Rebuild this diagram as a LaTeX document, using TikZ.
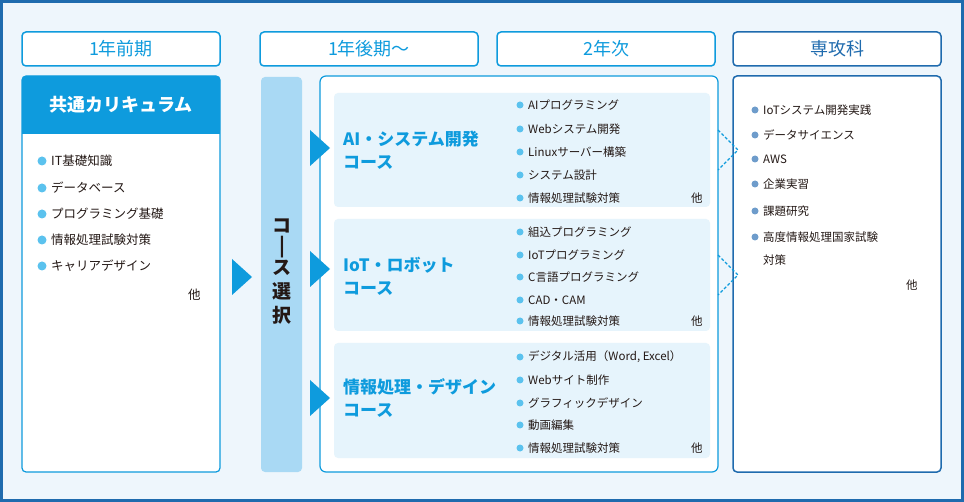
\documentclass[tikz,border=0pt]{standalone}
\usepackage{fontspec}
\setmainfont{Noto Sans CJK JP}
\definecolor{cblue}{HTML}{0E9BDD}
\definecolor{dblue}{HTML}{1F6BAE}
\definecolor{lblue}{HTML}{A9D9F4}
\definecolor{pblue}{HTML}{E6F4FC}
\definecolor{bgc}{HTML}{EEF6FC}
\definecolor{bul}{HTML}{5BC2EE}
\definecolor{bul2}{HTML}{6E9CCB}
\definecolor{txt}{HTML}{231815}
\begin{document}
\begin{tikzpicture}[x=1pt,y=-1pt,
 hdr/.style={draw=cblue,line width=1.5pt,rounded corners=4pt,fill=white,text=cblue,font=\fontsize{18}{18}\selectfont},
 item/.style={anchor=west,text=txt,font=\fontsize{12.5}{12.5}\selectfont,inner sep=0pt},
 sitem/.style={anchor=west,text=txt,font=\fontsize{11.5}{11.5}\selectfont,inner sep=0pt},
 ctitle/.style={anchor=west,text=cblue,align=left,font=\bfseries\fontsize{17}{23}\selectfont,inner sep=0pt},
 subbox/.style={fill=pblue,rounded corners=4pt},
 tri/.style={fill=cblue},
 dtri/.style={draw=cblue,dashed,line width=1.2pt,dash pattern=on 3pt off 2pt}]
\fill[bgc] (0,0) rectangle (964,502);
\draw[dblue,line width=3pt] (1.5,1.5) rectangle (962.5,500.5);
\node[hdr,minimum width=198pt,minimum height=34pt] (h1) at (121,49) {1年前期};
\node[hdr,minimum width=218pt,minimum height=34pt] (h2) at (369,49) {1年後期〜};
\node[hdr,minimum width=218pt,minimum height=34pt] (h3) at (606,49) {2年次};
\node[draw=dblue,line width=1.5pt,rounded corners=4pt,fill=white,text=dblue,font=\fontsize{18}{18}\selectfont,minimum width=208pt,minimum height=34pt] (h4) at (837,49) {専攻科};
% common
\draw[cblue,line width=1.2pt,fill=white,rounded corners=4pt] (22,76) rectangle (220,472);
\fill[cblue,rounded corners=4pt] (22,76) rectangle (220,134);
\fill[cblue] (22,110) rectangle (220,134);
\node[text=white,font=\bfseries\fontsize{18}{18}\selectfont] (common) at (121,105) {共通カリキュラム};
\foreach \t/\y in {IT基礎知識/161,データベース/188,プログラミング基礎/214,情報処理試験対策/240,キャリアデザイン/266}{
 \fill[bul] (42,\y) circle (4.5pt);
 \node[item] at (51,\y) {\t};}
\node[item] at (188,295) {他};
\fill[tri] (232,259) -- (252,277) -- (232,295) -- cycle;
% select
\fill[lblue,rounded corners=4pt] (261,77) rectangle (302,472);
\node[text=txt,font=\bfseries\fontsize{19}{24}\selectfont,align=center] (sel) at (282,272) {コ\\[-4pt]|\\[-2pt]ス\\選\\択};
% courses
\draw[cblue,line width=1.2pt,fill=white,rounded corners=6pt] (320,76) rectangle (718,472);
\fill[subbox] (334,93) rectangle (710,207);
\fill[subbox] (334,219) rectangle (710,331);
\fill[subbox] (334,343) rectangle (710,458);
\fill[tri] (310,130) -- (330,148) -- (310,166) -- cycle;
\fill[tri] (310,251) -- (330,269) -- (310,287) -- cycle;
\fill[tri] (310,380) -- (330,398) -- (310,416) -- cycle;
\node[ctitle] (c1) at (343,150) {AI・システム開発\\コース};
\node[ctitle] (c2) at (343,276) {IoT・ロボット\\コース};
\node[ctitle] (c3) at (343,398) {情報処理・デザイン\\コース};
\foreach \t/\y in {AIプログラミング/105,Webシステム開発/129,Linuxサーバー構築/152,システム設計/175,情報処理試験対策/198,
 組込プログラミング/232,IoTプログラミング/255,C言語プログラミング/277,CAD・CAM/300,情報処理試験対策/321,
 デジタル活用（Word{,} Excel）/357,Webサイト制作/380,グラフィックデザイン/403,動画編集/425,情報処理試験対策/448}{
 \fill[bul] (520,\y) circle (3.5pt);
 \node[sitem] at (528,\y) {\t};}
\foreach \y in {198,321,448}{\node[sitem] at (691,\y) {他};}
% advanced
\draw[dblue,line width=1.5pt,fill=white,rounded corners=4pt] (733,76) rectangle (941,472);
\draw[dtri] (718,130) -- (738,150) -- (718,170);
\draw[dtri] (718,255) -- (738,275) -- (718,295);
\foreach \t/\y in {IoTシステム開発実践/110,データサイエンス/135,AWS/159,企業実習/184,課題研究/211,高度情報処理国家試験/237}{
 \fill[bul2] (755,\y) circle (3.5pt);
 \node[sitem] at (763,\y) {\t};}
\node[sitem] at (763,260) {対策};
\node[sitem] at (906,285) {他};
\end{tikzpicture}
\end{document}
